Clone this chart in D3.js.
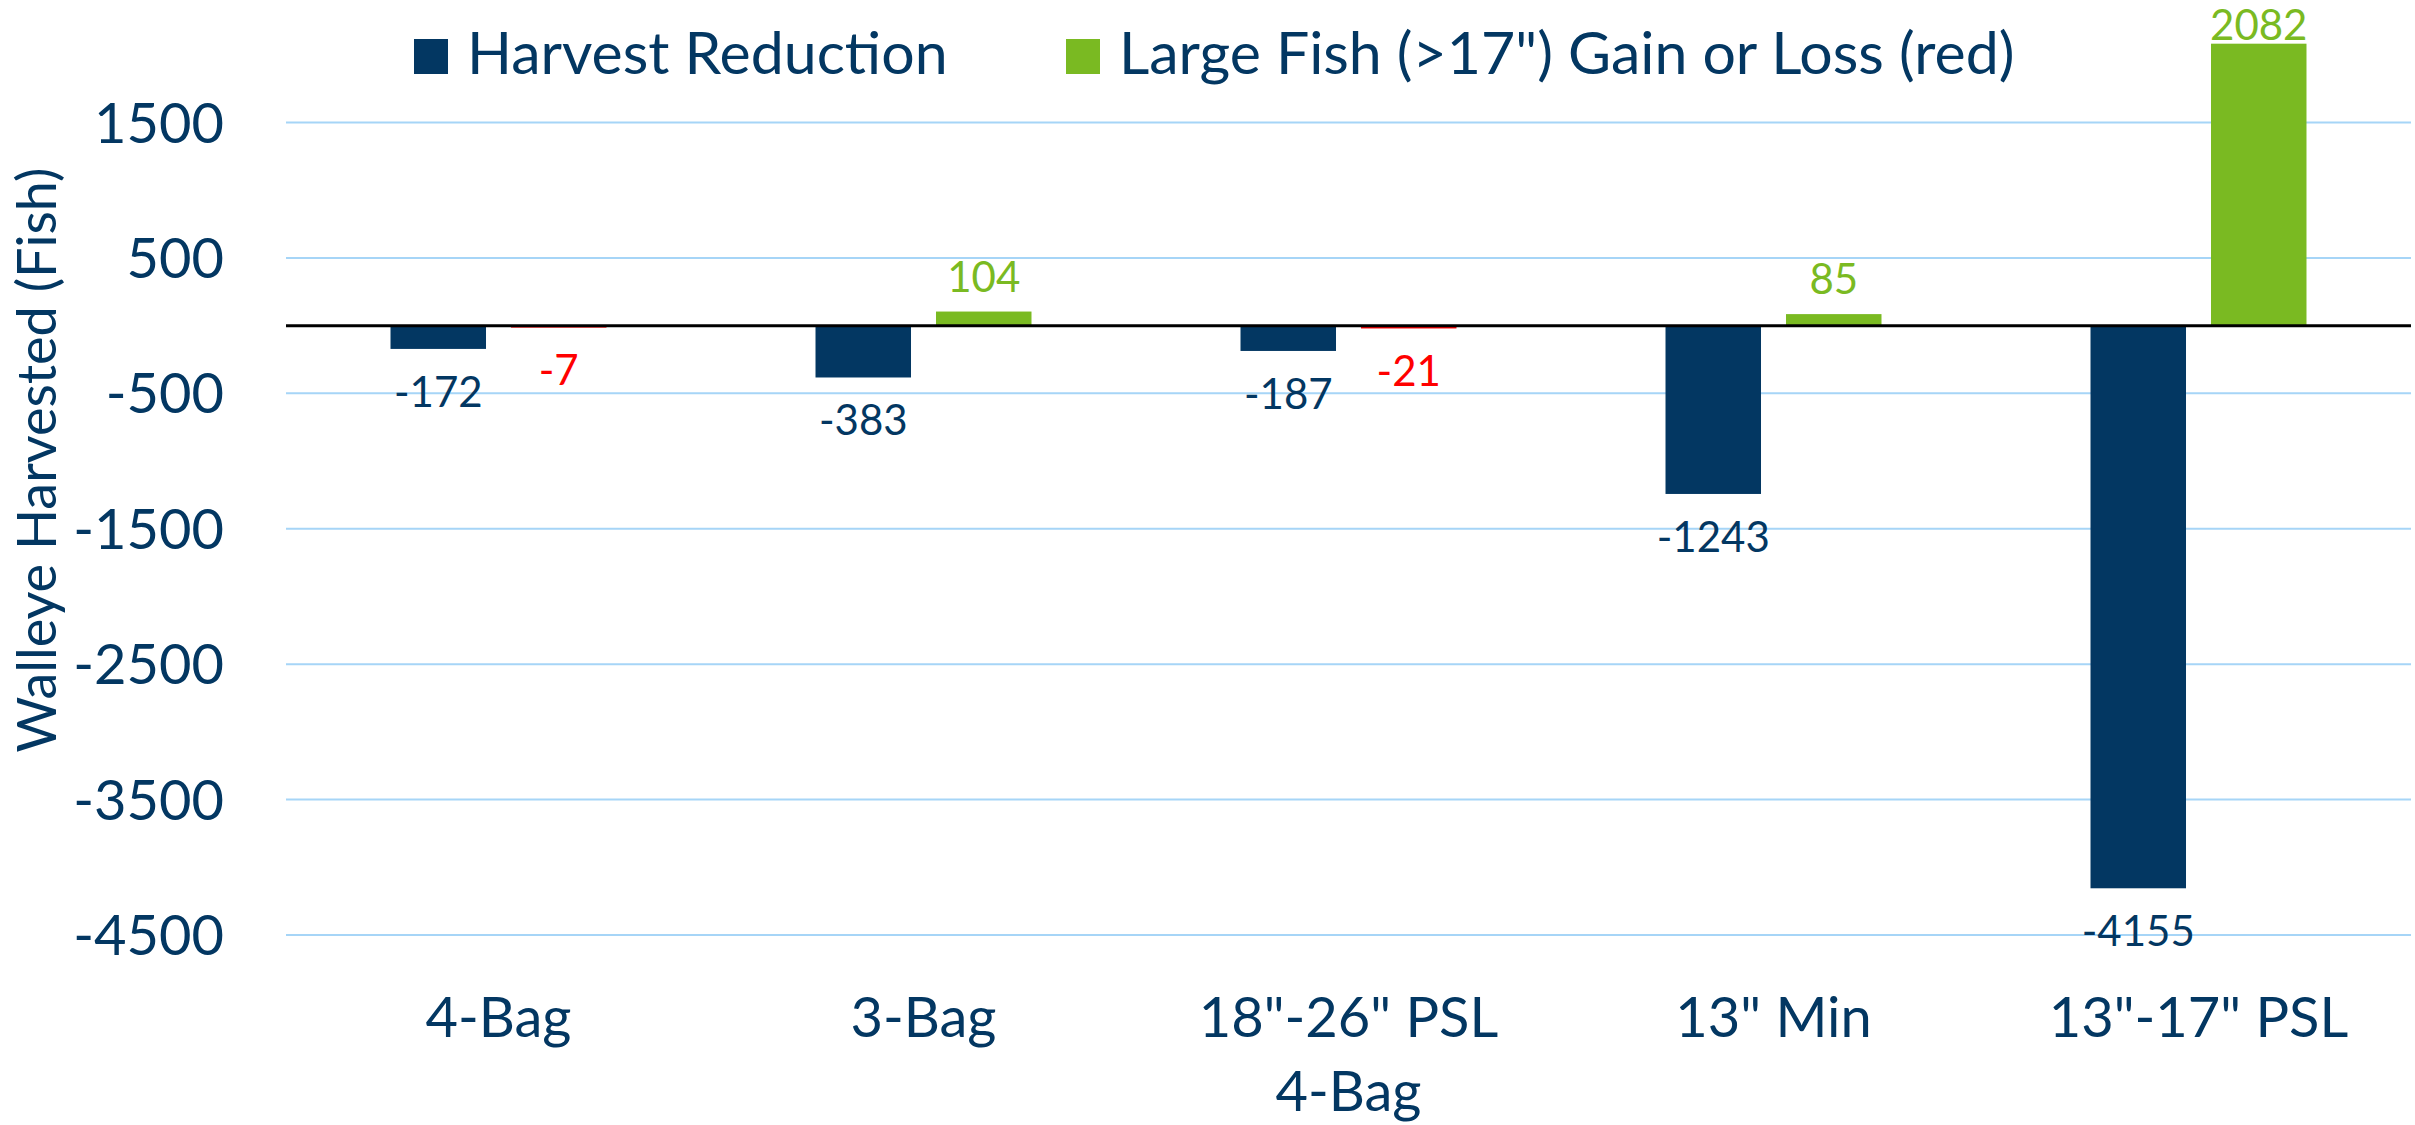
<!DOCTYPE html>
<html>
<head>
<meta charset="utf-8">
<script src="https://cdn.jsdelivr.net/npm/d3@7"></script>
<style>
	html, body { margin: 0; padding: 0; background: #ffffff; }
	svg { display: block; }
</style>
</head>
<body>
<div id="chart"></div>
<script>
/*
// Walleye harvest bar chart
// two series per regulation: harvest reduction and large fish gain/loss
*/

const categories = ['4-Bag', '3-Bag', '18"-26" PSL', '13" Min', '13"-17" PSL'];
const harvestReduction = [-172, -383, -187, -1243, -4155];
const largeFishChange = [-7, 104, -21, 85, 2082];
const yTicks = [1500, 500, -500, -1500, -2500, -3500, -4500];
const seriesNames = ['Harvest Reduction', 'Large Fish (>17") Gain or Loss (red)'];

const WIDTH = 2415;
const HEIGHT = 1125;
const NAVY = "#033762";
const GREEN = "#7aba22";
const RED = "#ff0000";
const GRID = "#a6d5f7";
const FONT = "Lato, 'Open Sans', sans-serif";

const svg = d3.select("#chart")
			  .append("svg")
			  .attr("width", WIDTH)
			  .attr("height", HEIGHT)

// Scales
const x = d3.scaleBand()
			.domain(categories)
			.range([286, 2411])

const y = d3.scaleLinear()
			.domain([-4500, 1500])
			.range([935, 122.5])

const barW = x.bandwidth() * 0.2247;
const barGap = x.bandwidth() * 0.0588;

// Gridlines
svg.append("g")
   .selectAll("line")
   .data(yTicks)
   .join("line")
   .attr("x1", x.range()[0])
   .attr("x2", x.range()[1])
   .attr("y1", d => y(d))
   .attr("y2", d => y(d))
   .attr("stroke", GRID)
   .attr("stroke-width", 2)

// Y tick labels
svg.append("g")
   .selectAll("text")
   .data(yTicks)
   .join("text")
   .attr("x", 224)
   .attr("y", d => y(d) + 20)
   .attr("text-anchor", "end")
   .attr("font-family", FONT)
   .attr("font-size", "56px")
   .attr("fill", NAVY)
   .text(d => d)

// Bars
const groups = svg.append("g")
				  .selectAll("g")
				  .data(categories)
				  .join("g")
				  .attr("transform", d => "translate(" + (x(d) + x.bandwidth() / 2) + ",0)")

groups.append("rect")
	  .attr("x", -barGap / 2 - barW)
	  .attr("y", (d, i) => Math.min(y(0), y(harvestReduction[i])))
	  .attr("width", barW)
	  .attr("height", (d, i) => Math.abs(y(harvestReduction[i]) - y(0)))
	  .attr("fill", NAVY)

groups.append("rect")
	  .attr("x", barGap / 2)
	  .attr("y", (d, i) => Math.min(y(0), y(largeFishChange[i])))
	  .attr("width", barW)
	  .attr("height", (d, i) => Math.max(2, Math.abs(y(largeFishChange[i]) - y(0))))
	  .attr("fill", (d, i) => largeFishChange[i] < 0 ? RED : GREEN)

// Zero line
svg.append("line")
   .attr("x1", x.range()[0])
   .attr("x2", x.range()[1])
   .attr("y1", y(0))
   .attr("y2", y(0))
   .attr("stroke", "#000000")
   .attr("stroke-width", 3)

// Data labels: below negative bars, above positive ones (kept inside the chart)
function labelY(v) {
	if (v < 0) return y(v) + 58;
	return Math.max(40, y(v) - 20);
}

groups.append("text")
	  .attr("x", -barGap / 2 - barW / 2)
	  .attr("y", (d, i) => labelY(harvestReduction[i]))
	  .attr("text-anchor", "middle")
	  .attr("font-family", FONT)
	  .attr("font-size", "42px")
	  .attr("fill", NAVY)
	  .text((d, i) => harvestReduction[i])

groups.append("text")
	  .attr("x", barGap / 2 + barW / 2)
	  .attr("y", (d, i) => labelY(largeFishChange[i]))
	  .attr("text-anchor", "middle")
	  .attr("font-family", FONT)
	  .attr("font-size", "42px")
	  .attr("fill", (d, i) => largeFishChange[i] < 0 ? RED : GREEN)
	  .text((d, i) => largeFishChange[i])

// Category labels
svg.append("g")
   .selectAll("text")
   .data(categories)
   .join("text")
   .attr("x", d => x(d) + x.bandwidth() / 2)
   .attr("y", 1037)
   .attr("text-anchor", "middle")
   .attr("font-family", FONT)
   .attr("font-size", "56px")
   .attr("fill", NAVY)
   .text(d => d)

// Axis titles
svg.append("text")
   .attr("x", (x.range()[0] + x.range()[1]) / 2)
   .attr("y", 1111)
   .attr("text-anchor", "middle")
   .attr("font-family", FONT)
   .attr("font-size", "56px")
   .attr("fill", NAVY)
   .text("4-Bag")

svg.append("text")
   .attr("transform", "translate(56,460) rotate(-90)")
   .attr("text-anchor", "middle")
   .attr("font-family", FONT)
   .attr("font-size", "54px")
   .attr("fill", NAVY)
   .text("Walleye Harvested (Fish)")

// Legend
const legendX = [414, 1066];
const legendColors = [NAVY, GREEN];
const legend = svg.append("g")
				  .selectAll("g")
				  .data(seriesNames)
				  .join("g")
				  .attr("transform", (d, i) => "translate(" + legendX[i] + ",39)")

legend.append("rect")
	  .attr("width", 34)
	  .attr("height", 35)
	  .attr("fill", (d, i) => legendColors[i])

legend.append("text")
	  .attr("x", 53)
	  .attr("y", 35)
	  .attr("font-family", FONT)
	  .attr("font-size", "59px")
	  .attr("fill", NAVY)
	  .text(d => d)
</script>
</body>
</html>
